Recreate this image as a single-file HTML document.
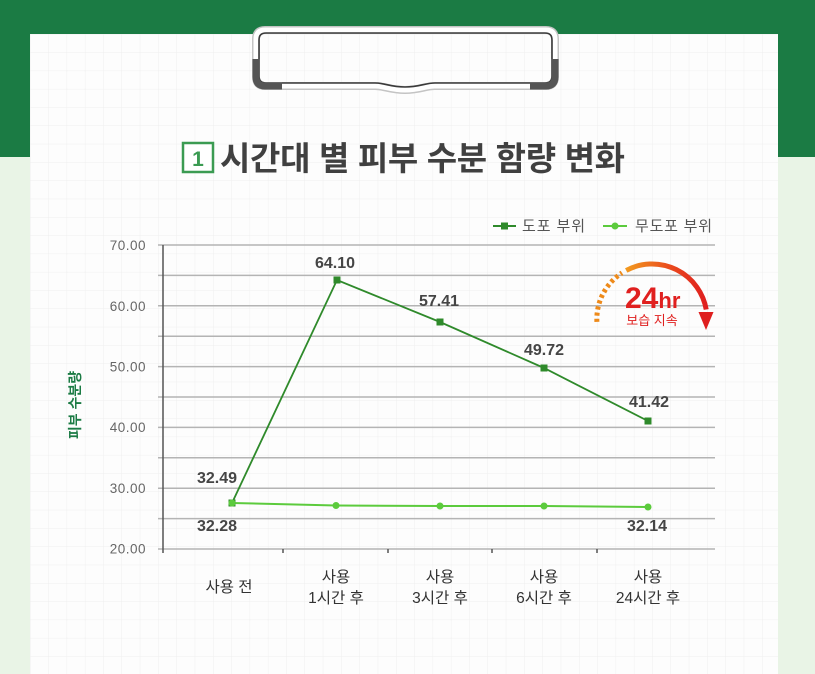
<!DOCTYPE html>
<html>
<head>
<meta charset="utf-8">
<style>
html,body{margin:0;padding:0;}
body{width:815px;height:674px;overflow:hidden;background:#e9f4e6;}
svg{display:block;}
text{font-family:"Liberation Sans","Noto Sans CJK KR",sans-serif;}
</style>
</head>
<body>
<svg width="815" height="674" viewBox="0 0 815 674" xmlns="http://www.w3.org/2000/svg">
  <defs>
    <pattern id="grid" x="30" y="34" width="18.3" height="18.3" patternUnits="userSpaceOnUse">
      <path d="M 18.3 0 L 0 0 0 18.3" fill="none" stroke="#efefef" stroke-width="1"/>
    </pattern>
    <linearGradient id="arcg" gradientUnits="userSpaceOnUse" x1="626" y1="0" x2="706" y2="0">
      <stop offset="0" stop-color="#f29a1f"/>
      <stop offset="0.55" stop-color="#ea4a1d"/>
      <stop offset="1" stop-color="#df1f1f"/>
    </linearGradient>
  </defs>

  <!-- background -->
  <rect x="0" y="0" width="815" height="157" fill="#1b7b44"/>
  <rect x="0" y="157" width="815" height="517" fill="#e9f4e6"/>
  <!-- card -->
  <rect x="30" y="34" width="748" height="640" fill="#fdfdfd"/>
  <rect x="30" y="34" width="748" height="640" fill="url(#grid)"/>

  <!-- clipboard clip -->
  <path d="M 265 30 H 546 Q 555 30 555 39 V 77 Q 555 86 546 86 H 435 C 425 86 420 90 405 90 C 390 90 385 86 375 86 H 265 Q 256 86 256 77 V 39 Q 256 30 265 30 Z" fill="none" stroke="#c4c4c4" stroke-width="8"/>
  <path d="M 265 30 H 546 Q 555 30 555 39 V 77 Q 555 86 546 86 H 435 C 425 86 420 90 405 90 C 390 90 385 86 375 86 H 265 Q 256 86 256 77 V 39 Q 256 30 265 30 Z" fill="none" stroke="#ffffff" stroke-width="5"/>
  <path d="M 266 33 H 545 Q 552 33 552 40 V 76 Q 552 83 545 83 H 435 C 425 83 420 87 405 87 C 390 87 385 83 375 83 H 266 Q 259 83 259 76 V 40 Q 259 33 266 33 Z" fill="none" stroke="#3a3a3a" stroke-width="1.6"/>
  <path d="M 256 59 V 77 Q 256 86 265 86 H 282" fill="none" stroke="#555" stroke-width="7"/>
  <path d="M 555 59 V 77 Q 555 86 546 86 H 530" fill="none" stroke="#555" stroke-width="7"/>

  <!-- title -->
  <rect x="183" y="143" width="30" height="29" fill="#fff" stroke="#3b9b52" stroke-width="2.5"/>
  <text x="198" y="166" text-anchor="middle" font-size="21" font-weight="bold" fill="#3b9b52">1</text>
  <text x="220" y="170" font-size="33" font-weight="bold" fill="#404040" textLength="405" lengthAdjust="spacing">시간대 별 피부 수분 함량 변화</text>

  <!-- legend -->
  <line x1="493" y1="226" x2="516" y2="226" stroke="#2f8a2b" stroke-width="2"/>
  <rect x="501" y="222.5" width="7" height="7" fill="#2f8a2b"/>
  <text x="522" y="231" font-size="15" fill="#555" textLength="63" lengthAdjust="spacing">도포 부위</text>
  <line x1="603" y1="226" x2="627" y2="226" stroke="#5ccb3d" stroke-width="2"/>
  <circle cx="615" cy="226" r="3.5" fill="#5ccb3d"/>
  <text x="635" y="231" font-size="15" fill="#555" textLength="77" lengthAdjust="spacing">무도포 부위</text>

  <!-- gridlines -->
  <g stroke="#b4b4b4" stroke-width="1.5">
    <line x1="158" y1="245" x2="715" y2="245"/>
    <line x1="158" y1="275.4" x2="715" y2="275.4"/>
    <line x1="158" y1="305.8" x2="715" y2="305.8"/>
    <line x1="158" y1="336.2" x2="715" y2="336.2"/>
    <line x1="158" y1="366.6" x2="715" y2="366.6"/>
    <line x1="158" y1="397" x2="715" y2="397"/>
    <line x1="158" y1="427.4" x2="715" y2="427.4"/>
    <line x1="158" y1="457.8" x2="715" y2="457.8"/>
    <line x1="158" y1="488.2" x2="715" y2="488.2"/>
    <line x1="158" y1="518.6" x2="715" y2="518.6"/>
    <line x1="158" y1="549" x2="715" y2="549"/>
  </g>
  <!-- axis -->
  <line x1="163" y1="245" x2="163" y2="553" stroke="#555" stroke-width="1.5"/>
  <g stroke="#555" stroke-width="1.5">
    <line x1="283" y1="549" x2="283" y2="553"/>
    <line x1="388" y1="549" x2="388" y2="553"/>
    <line x1="492" y1="549" x2="492" y2="553"/>
    <line x1="597" y1="549" x2="597" y2="553"/>
  </g>

  <!-- y tick labels -->
  <g font-size="13.5" fill="#666" text-anchor="end" letter-spacing="0.5">
    <text x="146" y="250">70.00</text>
    <text x="146" y="311">60.00</text>
    <text x="146" y="371.5">50.00</text>
    <text x="146" y="432">40.00</text>
    <text x="146" y="493">30.00</text>
    <text x="146" y="553.5">20.00</text>
  </g>

  <!-- y axis title -->
  <text x="0" y="0" transform="translate(80,405) rotate(-90)" text-anchor="middle" font-size="14" font-weight="bold" fill="#1b7b44">피부 수분량</text>

  <!-- series: 무도포 -->
  <polyline points="232,503 336,505.5 440,506 544,506 648,507" fill="none" stroke="#5ccb3d" stroke-width="2"/>
  <g fill="#5ccb3d">
    <circle cx="336" cy="505.5" r="3.5"/>
    <circle cx="440" cy="506" r="3.5"/>
    <circle cx="544" cy="506" r="3.5"/>
    <circle cx="648" cy="507" r="3.5"/>
  </g>
  <!-- series: 도포 -->
  <polyline points="232,503 337,280 440,322 544,368 648,421" fill="none" stroke="#2f8a2b" stroke-width="1.8"/>
  <g fill="#2f8a2b">
    <rect x="333.5" y="276.5" width="7" height="7"/>
    <rect x="436.5" y="318.5" width="7" height="7"/>
    <rect x="540.5" y="364.5" width="7" height="7"/>
    <rect x="644.5" y="417.5" width="7" height="7"/>
    <rect x="228.5" y="499.5" width="7" height="7"/>
  </g>
  <circle cx="232" cy="503" r="3.5" fill="#5ccb3d"/>

  <!-- data labels -->
  <g font-size="16" font-weight="bold" fill="#454545" text-anchor="middle">
    <text x="335" y="268">64.10</text>
    <text x="439" y="306">57.41</text>
    <text x="544" y="355">49.72</text>
    <text x="649" y="407">41.42</text>
    <text x="217" y="483">32.49</text>
    <text x="217" y="531">32.28</text>
    <text x="647" y="531">32.14</text>
  </g>

  <!-- x labels -->
  <g font-size="15.5" fill="#333" text-anchor="middle">
    <text x="229" y="592">사용 전</text>
    <text x="336" y="582">사용</text>
    <text x="336" y="603">1시간 후</text>
    <text x="440" y="582">사용</text>
    <text x="440" y="603">3시간 후</text>
    <text x="544" y="582">사용</text>
    <text x="544" y="603">6시간 후</text>
    <text x="648" y="582">사용</text>
    <text x="648" y="603">24시간 후</text>
  </g>

  <!-- 24hr badge -->
  <path d="M 596.9 321.9 A 55 55 0 0 1 622 272.9" fill="none" stroke="#ee8a1a" stroke-width="5" stroke-dasharray="3.2 3"/>
  <path d="M 626.2 270.4 A 55 55 0 0 1 706.2 309.5" fill="none" stroke="url(#arcg)" stroke-width="5"/>
  <polygon points="698.5,312 713.5,312 706,330" fill="#df1f1f"/>
  <text x="625" y="308" font-weight="bold" fill="#e0201f"><tspan font-size="30">24</tspan><tspan font-size="22">hr</tspan></text>
  <text x="652" y="325" text-anchor="middle" font-size="13" fill="#e0201f">보습 지속</text>
</svg>
</body>
</html>
